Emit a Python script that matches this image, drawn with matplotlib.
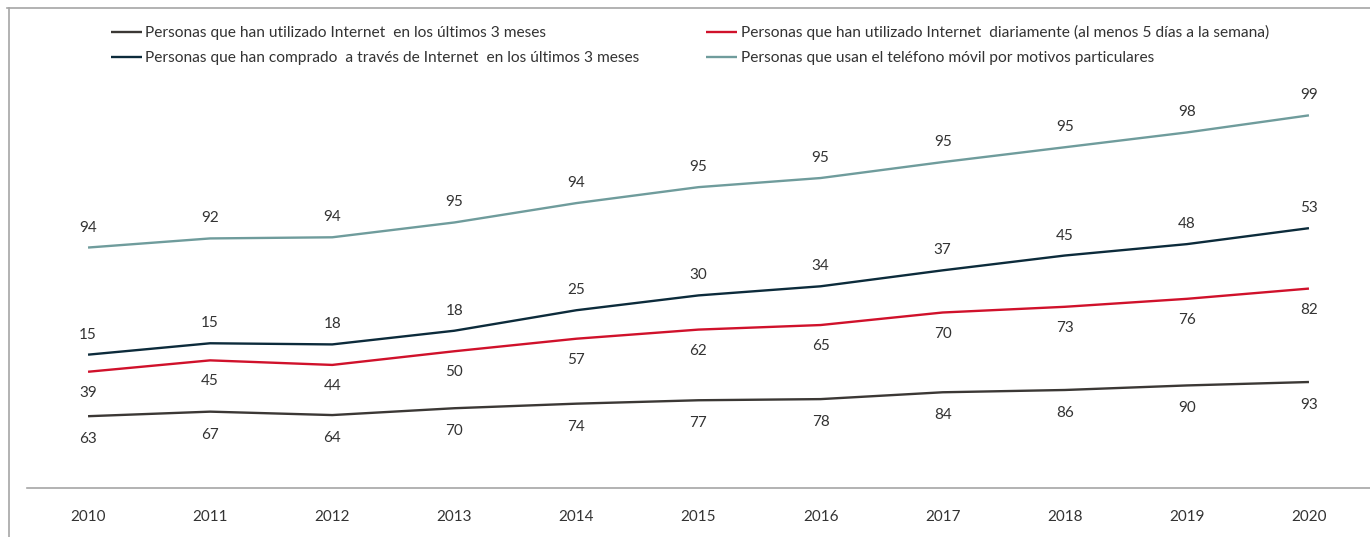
import matplotlib
matplotlib.use("Agg")
import numpy as np
from matplotlib import pyplot as plt
from matplotlib.lines import Line2D

plt.rcParams['font.family'] = ['Lato', 'DejaVu Sans']

years = [2010, 2011, 2012, 2013, 2014, 2015, 2016, 2017, 2018, 2019, 2020]
internet_3m = [63, 67, 64, 70, 74, 77, 78, 84, 86, 90, 93]
internet_diario = [39, 45, 44, 50, 57, 62, 65, 70, 73, 76, 82]
compras_3m = [15, 15, 18, 18, 25, 30, 34, 37, 45, 48, 53]
movil = [94, 92, 94, 95, 94, 95, 95, 95, 95, 98, 99]

labels = [
    "Personas que han utilizado Internet  en los últimos 3 meses",
    "Personas que han utilizado Internet  diariamente (al menos 5 días a la semana)",
    "Personas que han comprado  a través de Internet  en los últimos 3 meses",
    "Personas que usan el teléfono móvil por motivos particulares",
]
colors = ['#3b3835', '#d0112b', '#0c2b3b', '#6f9c9c']
series = [internet_3m, internet_diario, compras_3m, movil]
# label offset in pixels: below (-) or above (+) the line
offsets = [-23, -21, 20, 20]

fig = plt.figure(figsize=(13.7, 5.37), dpi=100)
ax = fig.add_axes([27 / 1370, 49 / 537, 1 - 27 / 1370, 400 / 537])

# stacked lines
cum = np.cumsum(np.array(series), axis=0)
handles = []
for vals, top, c, lab, off in zip(series, cum, colors, labels, offsets):
    h, = ax.plot(years, top, color=c, lw=1.7, label=lab, solid_capstyle='butt')
    handles.append(h)
    for x, y, v in zip(years, top, vals):
        ax.annotate(str(v), (x, y), xytext=(0, off), textcoords='offset pixels',
                    ha='center', va='center', fontsize=11, color='#333333')

ax.set_xlim(2009.5, 2020.5)
ax.set_ylim(0, 351)
ax.set_xticks(years)
ax.set_xticklabels([str(y) for y in years], fontsize=11, color='#333333')
ax.tick_params(axis='x', length=0, pad=16)
ax.set_yticks([])
for s in ['top', 'right', 'left']:
    ax.spines[s].set_visible(False)
ax.spines['bottom'].set_color('#a6a6a6')
ax.spines['bottom'].set_linewidth(1.2)

order = [0, 2, 1, 3]
fig.legend([handles[i] for i in order], [labels[i] for i in order],
           loc='upper left', bbox_to_anchor=(97 / 1370, 1 - 11 / 537),
           ncol=2, frameon=False, fontsize=11.2,
           handlelength=2.0, handletextpad=0.2, columnspacing=4.3,
           labelspacing=0.72, labelcolor='#333333')

# outer frame (top and left)
fig.add_artist(Line2D([7 / 1370, 1], [1 - 8 / 537, 1 - 8 / 537], color='#a6a6a6', lw=1.2))
fig.add_artist(Line2D([9 / 1370, 9 / 1370], [0, 1 - 8 / 537], color='#a6a6a6', lw=1.2))

fig.savefig('out.png', dpi=100)
